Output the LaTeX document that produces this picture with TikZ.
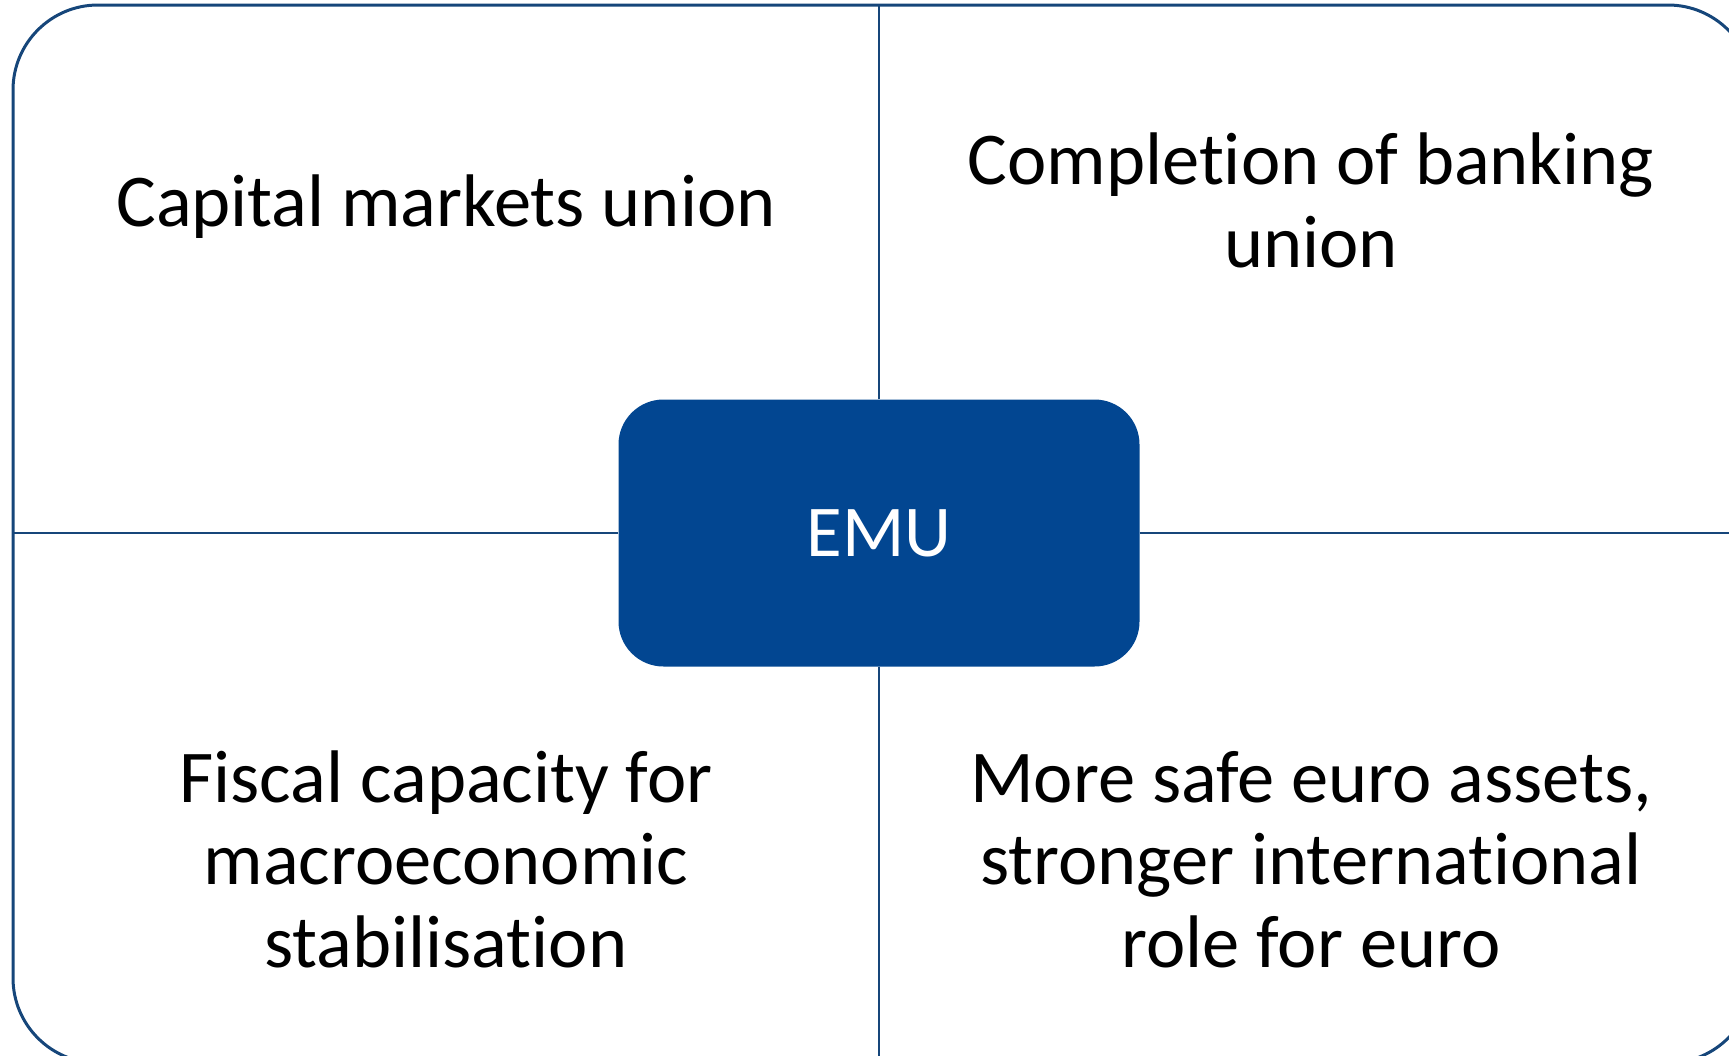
\documentclass[tikz,border=0pt]{standalone}
\usepackage{fontspec}
\setmainfont{Carlito}[Ligatures=NoCommon]
\definecolor{framenavy}{RGB}{22,70,122}
\definecolor{emublue}{RGB}{2,70,145}

\begin{document}
\begin{tikzpicture}[x=1pt, y=-1pt,
  pillar/.style={font=\fontsize{74.5}{82.5}\selectfont, align=center, inner sep=0pt, anchor=base},
  hub/.style={fill=emublue, rounded corners=45pt, minimum width=521pt, minimum height=267pt,
    inner sep=0pt, text=white, font=\fontsize{73}{82.5}\selectfont},
  divider/.style={draw=framenavy, line width=2pt}]
\useasboundingbox (0,0) rectangle (1729,1055);
\clip (0,0) rectangle (1729,1055);
\node (frame) [draw=framenavy, line width=3pt, rounded corners=85pt, minimum width=1740pt, minimum height=1058pt] at (883,534) {};
\node (emu) [hub] at (879,533) {EMU};
\draw[divider] (emu.north) -- (emu.north |- frame.north);
\draw[divider] (emu.south) -- (emu.south |- frame.south);
\draw[divider] (emu.west) -- (emu.west -| frame.west);
\draw[divider] (emu.east) -- (emu.east -| frame.east);
% anchor=base sits on the last line of each label
\node (cmu) [pillar] at (446,226) {Capital markets union};
\node (banking) [pillar] at (1311,267) {Completion of banking\\union};
\node (fiscal) [pillar] at (446,967) {Fiscal capacity for\\macroeconomic\\stabilisation};
\node (assets) [pillar] at (1311,967) {More safe euro assets,\\stronger international\\role for euro};
\end{tikzpicture}
\end{document}
